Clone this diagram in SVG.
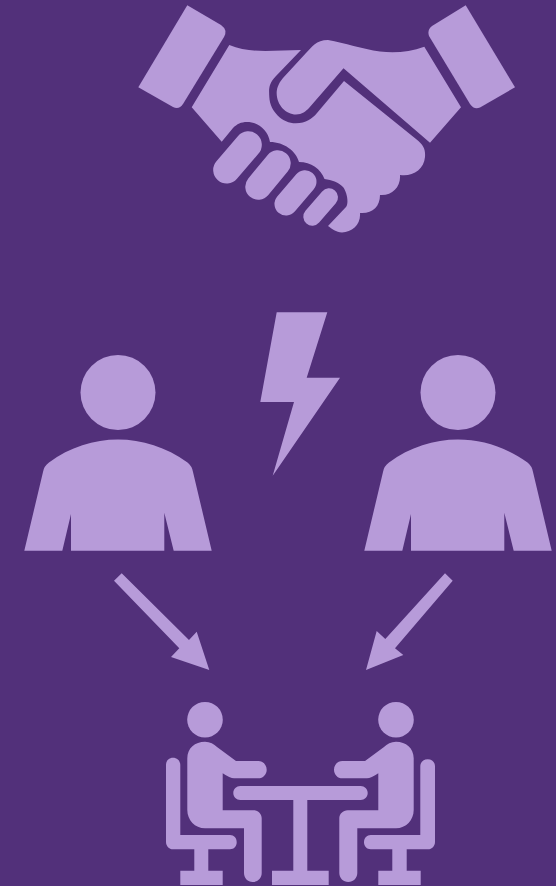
<svg xmlns="http://www.w3.org/2000/svg" width="556" height="886" viewBox="0 0 556 886">
<style>
.f{fill:#b79bd9}
.c{fill:none;stroke:#b79bd9;stroke-linecap:round}
</style>
<defs>
<g id="person">
<circle class="f" cx="118" cy="392.5" r="37.5"/>
<path class="f" d="M24.300 550.700L43 472Q44 466 49 462.500C70 447 94 439.500 118 439.500C142 439.500 166 447 187.500 462.500Q192 466 193 472L211.700 550.700H173.700L164.300 512.700V550.700H71V514L62.300 550.700Z"/>
</g>
</defs>
<rect width="556" height="886" fill="#52307a"/>
<g id="handshake">
<path class="f" d="M187.300 5.300L221 25Q228 30 224 37L183 104Q179 110 173 107L138.300 87.300Z"/>
<path class="f" d="M465.700 5.300L515 87.300L480 107.500Q474 110 470 104L429 36Q427 30 432 26Z"/>
<path class="f" d="M229.300 45C250 54 275 50 301 50L276 76C268 84 269 90 269.300 97C270 112 283 123.500 296 123.300C306 123 312 119 317 113L344 81L416 139C424 145 425.500 150 425 157C424 170 412 177 400 175C401 187 392 196 380 195C380 207 372 214 360 213C361 225 352 232 342 232.500C336 232 332 229 328 226L346 207C349 203 347 192 343 187C338 182 332 180 324.500 179C321 169 311 162 299 162C296 151 284 142 270 142C268 130 258 122 247 122C241 122 237 124 233 128L221.700 141.700L191.700 107.300Z"/>
<path class="f" d="M328 40C316 40 312 47 306 53L283 78C278 84 276.500 89 276.700 94C277 105 286 114.500 296 114.500C302 114.500 306 111 309 108L343.500 68.300L430 142.700L461 107.300L424.300 46.700C410 52 395 53 380 51.500C362 49 345 43 328 40Z"/>
<path class="c" stroke-width="27" d="M226.700 170L248.300 144.800"/>
<path class="c" stroke-width="26" d="M258.300 186.700L277.700 163.300"/>
<path class="c" stroke-width="23" d="M286 204L305 181.700"/>
<path class="c" stroke-width="18" d="M312.300 216.700L329 197.300"/>
</g>
<g id="bolt">
<path class="f" d="M276.700 312.300H327.300L306.700 377.700H340L272.700 475.700L294 402H260.300Z"/>
</g>
<g id="person-left"><use href="#person"/></g>
<g id="person-right"><use href="#person" x="340"/></g>
<g id="connectors">
<path class="f" d="M121.700 573.300L114 580.700L179.300 648.300L171 657L209.300 670L196.700 631.700L189 640Z"/>
<path class="f" d="M445 573.300L452.700 580.700L395 648.300L403.300 655L366 670L376.700 631L385.300 639Z"/>
</g>
<g id="meeting">
<circle class="f" cx="205" cy="719.700" r="17.800"/>
<circle class="f" cx="396" cy="719.700" r="17.800"/>
<path class="f" d="M187.300 758.300C187.300 748 195 741.700 205 741.700C210 741.700 214 744 217 747L236 761H258.300C263 761 266.700 765 266.700 769.700C266.700 774.500 263 778.300 258.300 778.300H234Q230 778.300 222.700 773.300V810.300H253.300C258 810.300 261.700 814 261.700 818.300V873C261.700 878 257.700 882 252.700 882C247.700 882 244 878 244 873V828.300H205C195 828.300 187.300 820 187.300 810Z"/>
<path class="f" d="M413.700 758.300C413.700 748 406 741.700 396 741.700C391 741.700 387 744 384 747L365 761H342.300C337.500 761 334 765 334 769.700C334 774.500 337.500 778.300 342.300 778.300H367Q371 778.300 378.300 773.300V810.300H347.700C343 810.300 339.300 814 339.300 818.300V873C339.300 878 343.300 882 348.300 882C353.300 882 357.300 878 357.300 873V828.300H396C406 828.300 413.700 820 413.700 810Z"/>
<path class="f" d="M166 765C166 760.500 169 757.700 173 757.700C177 757.700 180.300 760.500 180.300 765V835H230C234 835 236.700 838 236.700 842.300C236.700 846.500 234 849.300 230 849.300H208.300V870.700H222.700V885H180.300V870.700H194.300V849.300H173C169 849.300 166 846 166 842Z"/>
<path class="f" d="M435 766.500C435 762 432 759.300 427.700 759.300C423.500 759.300 420.300 762 420.300 766.500V835H370.700C367 835 364 838 364 842.300C364 846.500 367 849.300 370.700 849.300H392.300V870.700H378.300V885H420.700V870.700H406.700V849.300H428C432 849.300 435 846 435 842Z"/>
<path class="f" d="M240.300 786H360.700C364.500 786 367.700 789 367.700 793C367.700 797 364.500 800 360.700 800H307.300V870.700H328.700V885H272V870.700H293.300V800H240.300C236.500 800 233.300 797 233.300 793C233.300 789 236.500 786 240.300 786Z"/>
</g>
</svg>
